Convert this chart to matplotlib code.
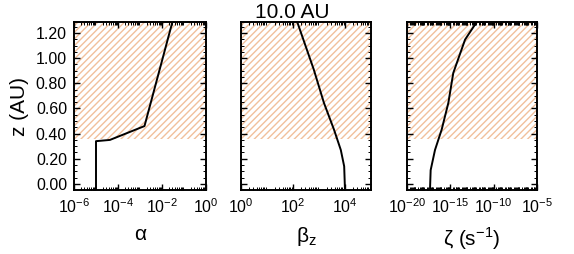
import numpy as np
import matplotlib as mpl
import matplotlib.pyplot as plt

# dead-zone / active boundary (hatched above)
Z_ACTIVE = 0.355

z_alpha = [-0.05, 0.34, 0.35, 0.46, 1.29]
alpha   = [1.0e-5, 1.0e-5, 4.3e-5, 1.6e-3, 3.0e-2]

z_beta = [-0.05, 0.14, 0.27, 0.43, 0.644, 0.909, 1.29]
beta   = [1.0e4, 9.3e3, 6.9e3, 3.8e3, 1.55e3, 6.3e2, 1.44e2]

z_zeta = [-0.05, 0.11, 0.27, 0.432, 0.644, 0.882, 1.147, 1.287, 1.287]
zeta   = [10**-17.35, 10**-17.27, 10**-16.77, 10**-16.0, 10**-15.23,
          10**-14.66, 10**-13.3, 10**-11.96, 10**-10.8]

YTICKS = [0.0, 0.2, 0.4, 0.6, 0.8, 1.0, 1.2]

mpl.rcParams.update({
    "font.family": ["Liberation Sans", "DejaVu Sans"],
    "font.size": 11,
    "axes.linewidth": 1.4,
    "hatch.linewidth": 1.0,
    "xtick.direction": "in",
    "ytick.direction": "in",
    "xtick.top": True,
    "ytick.right": True,
})

COL_HATCH = "#f1c09c"

fig = plt.figure(figsize=(5.74, 2.54), dpi=100)
W, H = 574.0, 254.0
bottom, height = 1 - 190 / H, 168 / H
axs = [fig.add_axes([74 / W, bottom, 132 / W, height]),
       fig.add_axes([241 / W, bottom, 130 / W, height]),
       fig.add_axes([407 / W, bottom, 130 / W, height])]

panels = [
    (alpha, z_alpha, (1e-6, 1.0), [1e-6, 1e-4, 1e-2, 1e0], "α"),
    (beta, z_beta, (1.0, 1e5), [1e0, 1e2, 1e4], r"β$_\mathregular{z}$"),
    (zeta, z_zeta, (1e-20, 1e-5), [1e-20, 1e-15, 1e-10, 1e-5], r"ζ (s$^\mathregular{-1}$)"),
]

for ax, (xv, zv, xl, xt, lab) in zip(axs, panels):
    ax.fill_between(xl, Z_ACTIVE, 1.29, facecolor="none", edgecolor=COL_HATCH,
                    hatch="/////", linewidth=0, zorder=0)
    ax.plot(xv, zv, color="black", lw=1.4)
    ax.set_xscale("log")
    ax.set_xlim(*xl)
    ax.set_ylim(-0.048, 1.287)
    ax.set_xticks(xt)
    ax.set_yticks(YTICKS)
    ax.yaxis.set_minor_locator(mpl.ticker.MultipleLocator(0.05))
    ax.xaxis.set_minor_locator(mpl.ticker.LogLocator(base=10, subs=np.arange(2, 10), numticks=30))
    ax.xaxis.set_minor_formatter(mpl.ticker.NullFormatter())
    ax.tick_params(which="major", length=4, width=1.0, labelsize=11.5, pad=5)
    ax.tick_params(which="minor", length=2, width=0.7)
    ax.set_xlabel(lab, fontsize=15, labelpad=7)
    if ax is axs[0]:
        ax.set_yticklabels(["%.2f" % v for v in YTICKS])
        ax.set_ylabel("z (AU)", fontsize=15, labelpad=5)
    else:
        ax.set_yticklabels([])

fig.text(292 / W, 1 - 12 / H, "10.0 AU", ha="center", va="center", fontsize=15)

fig.savefig("out.png", dpi=100)
